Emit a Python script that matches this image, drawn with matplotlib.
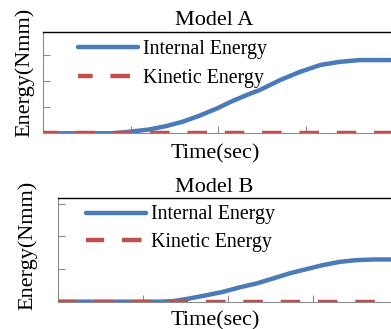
import matplotlib
matplotlib.use("Agg")
import matplotlib.pyplot as plt
import numpy as np

plt.rcParams['font.family'] = ['Liberation Serif', 'DejaVu Serif']

# Data (arbitrary units)
time_a = [0, 0.80, 0.99, 1.22, 1.41, 1.60, 1.79, 1.99, 2.17, 2.37, 2.48, 2.71, 2.94,
          3.17, 3.39, 3.62, 4.3]
internal_a = [0, 0, 0.06, 0.15, 0.28, 0.45, 0.68, 0.96, 1.25, 1.53, 1.67, 2.05, 2.37,
              2.63, 2.75, 2.82, 2.82]
kinetic_a = [0] * len(time_a)

time_b = [0, 1.20, 1.36, 1.55, 1.75, 1.94, 2.14, 2.34, 2.53, 2.73, 2.93, 3.12, 3.32,
          3.51, 3.71, 4.3]
internal_b = [0, 0, 0.02, 0.10, 0.20, 0.30, 0.44, 0.56, 0.71, 0.87, 1.00, 1.12, 1.22,
              1.27, 1.29, 1.29]
kinetic_b = [0] * len(time_b)

titles = ["Model A", "Model B"]
series_labels = ["Internal Energy", "Kinetic Energy"]
xlabel = "Time(sec)"
ylabel = "Energy(Nmm)"

W, H = 391, 329
fig = plt.figure(figsize=(W / 100, H / 100), dpi=100)

BLUE = '#4a7ab8'
RED = '#c0504d'
GRAY = '#8c8c8c'


def fx(px):
    return px / W


def fy(py):
    return 1 - py / H


def make_panel(left, top, bottom, xunit, ylim, t, ie, ke, title, title_base,
               xl_base, yl_x, yl_y, leg_x, leg_y, labelspacing, dash_off):
    right = left + xunit * 4.3
    ax = fig.add_axes([fx(left), fy(bottom), fx(right - left), (bottom - top) / H])
    ax.plot(t, ie, color=BLUE, lw=3.2, solid_capstyle='round', label=series_labels[0], zorder=2)
    ax.plot(t, ke, color=RED, lw=3.2, linestyle=(dash_off, (4.4, 4.0)),
            label=series_labels[1], zorder=3)
    ax.set_xlim(0, 4.3)
    ax.set_ylim(0, ylim)
    ax.set_xticks([1, 2, 3, 4])
    ax.set_yticks([1, 2, 3])
    ax.tick_params(direction='in', length=5, width=0.8, color=GRAY,
                   labelleft=False, labelbottom=False)
    ax.spines['top'].set_color('black')
    ax.spines['top'].set_linewidth(1.0)
    for s in ('left', 'bottom'):
        ax.spines[s].set_color(GRAY)
        ax.spines[s].set_linewidth(0.8)
    ax.spines['right'].set_visible(False)
    cx = 214
    fig.text(fx(cx), fy(title_base), title, ha='center', va='baseline', fontsize=16)
    fig.text(fx(cx + 1), fy(xl_base), xlabel, ha='center', va='baseline', fontsize=16)
    fig.text(fx(yl_x), fy(yl_y), ylabel, ha='center', va='center', rotation=90, fontsize=16)
    ax.legend(loc='upper left',
              bbox_to_anchor=((leg_x - left) / (right - left), (bottom - leg_y) / (bottom - top)),
              frameon=False, fontsize=14.3, handlelength=3.0, handletextpad=0.25,
              borderpad=0, borderaxespad=0, labelspacing=labelspacing)
    return ax


make_panel(43, 32, 133.3, 87.5, 3.9, time_a, internal_a, kinetic_a, titles[0], 25, 158,
           25, 72, 78, 40, 0.50, 1.1)
make_panel(58, 198.3, 301.7, 85, 3.16, time_b, internal_b, kinetic_b, titles[1], 192, 325,
           28, 245, 86, 205.5, 0.45, 0.3)

fig.savefig('out.png', dpi=100)
